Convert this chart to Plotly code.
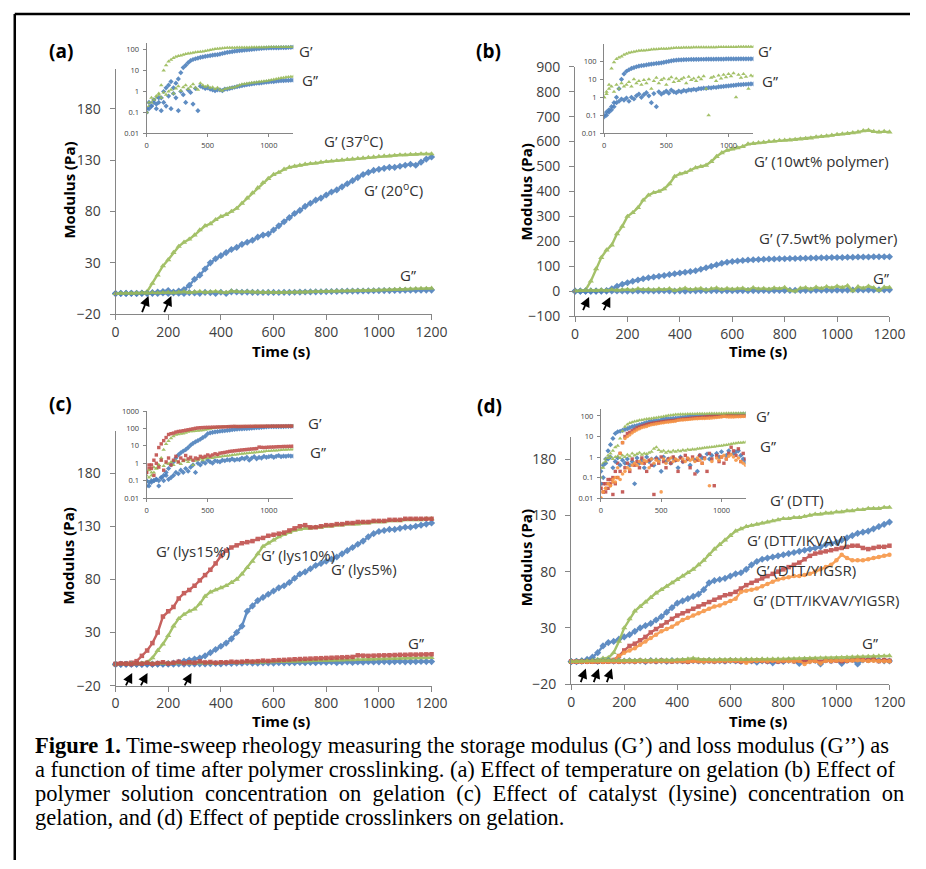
import plotly.graph_objects as go

W, H = 926, 869
TIME_STEP_S = 20  # values below are read every 20 s, from 0 to 1200 s

# ---------------- Panel (a): temperature ----------------
A_G37 = [0.1, 0.2, 0.3, 0.4, 0.5, 0.7, 2, 10, 18, 27,
         33, 40, 46, 50, 53, 57, 62, 66, 68, 72,
         75, 77, 80, 83, 88, 93, 98, 103, 108, 112,
         116, 118, 121, 123, 124, 125, 126, 126.5, 127, 128,
         128.5, 129, 129.5, 130, 130.5, 131, 131.5, 132, 132.5, 133,
         133.5, 134, 134, 134.5, 135, 135, 135.5, 135.5, 136, 136,
         136]
A_G20 = [0.1, 0.15, 0.2, 0.3, 0.25, 0.3, 0.5, 1, 1.5, 2,
         3, 1.5, 2.5, 4, 8, 14, 18, 24, 30, 34,
         37, 40, 43, 45, 48, 50, 52, 55, 57, 58,
         62, 66, 70, 74, 78, 81, 85, 88, 91, 93,
         96, 99, 101, 104, 107, 110, 113, 116, 118, 120,
         121, 122, 123, 123, 124, 125, 126, 125, 128, 131,
         133]
A_GG37 = [0.1, 0.3, 0.5, 0.4, 0.6, 0.8, 0.5, 0.9, 0.7, 1.0,
          1.2, 0.8, 1.4, 1.8, 1.1, 1.6, 2.0, 1.3, 1.7, 2.2,
          1.5, 1.2, 2.5, 2.0, 1.7, 1.9, 1.5, 1.6, 1.3, 1.5,
          1.2, 1.1, 1.3, 1.4, 1.5, 1.5, 1.6, 1.8, 2.0, 2.2,
          2.3, 2.4, 2.5, 2.6, 2.7, 2.8, 2.9, 3.0, 3.1, 3.2,
          3.4, 3.6, 3.8, 4.0, 4.2, 4.4, 4.6, 4.8, 5.0, 5.1,
          5.2]
A_GG20 = [0.15, 0.3, 0.2, 0.4, 0.15, 0.5, 0.12, 0.3, 0.2, 0.6,
          0.15, 0.8, 0.5, 0.12, 1.0, 0.7, 0.3, 1.2, 0.9, 0.25,
          1.4, 0.12, 1.8, 1.6, 1.4, 1.5, 1.3, 1.2, 1.1, 1.2,
          1.2, 1.1, 1.3, 1.3, 1.4, 1.5, 1.6, 1.7, 1.8, 1.9,
          2.0, 2.1, 2.2, 2.3, 2.4, 2.5, 2.5, 2.6, 2.7, 2.8,
          2.9, 3.0, 3.0, 3.1, 3.2, 3.3, 3.3, 3.4, 3.4, 3.5,
          3.5]

# ---------------- Panel (b): polymer concentration ----------------
B_G10 = [1.0, 1.5, 5, 40, 90, 135, 165, 185, 230, 260,
         300, 315, 335, 365, 385, 395, 400, 410, 430, 460,
         470, 475, 485, 495, 500, 505, 520, 540, 555, 565,
         570, 575, 580, 590, 592, 595, 597, 600, 602, 604,
         605, 606, 608, 610, 612, 614, 618, 620, 622, 625,
         628, 630, 632, 635, 638, 643, 645, 640, 638, 640,
         638]
B_G75 = [0.1, 0.15, 0.2, 0.3, 0.5, 1, 3, 10, 20, 28,
         34, 40, 45, 50, 54, 57, 60, 63, 67, 70,
         73, 76, 79, 82, 88, 94, 100, 106, 112, 116,
         119, 121, 123, 125, 126, 127, 128, 129, 129, 130,
         130, 131, 131, 132, 132, 133, 133, 134, 134, 135,
         135, 135, 136, 136, 137, 137, 137, 138, 138, 138,
         138]
B_GG10 = [1.0, 2, 3, 4, 2, 5, 3, 6, 4, 5,
          7, 4, 10, 6, 8, 5, 9, 6, 10, 3,
          8, 12, 6, 9, 11, 5, 10, 13, 7, 11,
          8, 10, 12, 6, 14, 9, 11, 8, 13, 10,
          15, 3, 0.1, 12, 14, 8, 16, 11, 18, 13,
          20, 15, 22, 1, 18, 12, 20, 14, 3, 16,
          15]
B_GG75 = [0.08, 0.1, 0.15, 0.2, 0.3, 0.5, 0.6, 0.8, 0.7, 0.9,
          0.6, 1.0, 0.8, 1.2, 1.5, 1.0, 1.4, 1.8, 1.2, 0.5,
          1.6, 0.3, 2.0, 1.5, 1.8, 2.2, 1.7, 2.5, 2.0, 1.8,
          2.2, 2.0, 2.4, 2.2, 2.6, 2.5, 2.8, 2.6, 3.0, 3.0,
          3.2, 3.1, 3.4, 3.3, 3.6, 3.5, 3.8, 3.9, 4.0, 4.2,
          4.3, 4.5, 4.6, 4.8, 5.0, 5.0, 5.2, 5.3, 5.4, 5.5,
          5.5]

# ---------------- Panel (c): lysine concentration ----------------
C_G15 = [0.3, 0.5, 0.8, 1.5, 3, 8, 13, 20, 30, 45,
         50, 54, 62, 67, 70, 74, 79, 84, 89, 95,
         102, 107, 110, 112, 114, 115, 116, 118, 119, 121,
         122, 123, 124, 126, 128, 130, 131, 129, 129, 130,
         131, 131, 132, 132, 133, 133, 134, 134, 134, 135,
         135, 135, 136, 136, 136, 137, 137, 137, 137, 137,
         137]
C_G10 = [0.1, 0.15, 0.2, 0.3, 0.5, 0.8, 2, 6, 13, 19,
         27, 36, 43, 47, 50, 52, 57, 64, 68, 70,
         72, 74, 77, 80, 85, 91, 97, 104, 111, 114,
         117, 120, 122, 124, 126, 127, 128, 128, 129, 129,
         130, 130, 131, 131, 132, 132, 132, 133, 133, 134,
         134, 134, 135, 135, 135, 136, 136, 136, 136, 137,
         137]
C_G5 = [0.05, 0.08, 0.1, 0.1, 0.12, 0.1, 0.15, 0.2, 0.3, 0.5,
        0.8, 1.2, 2, 3, 4, 5, 6, 8, 11, 14,
        17, 20, 24, 30, 36, 50, 55, 60, 63, 66,
        69, 72, 74, 77, 81, 85, 87, 90, 93, 95,
        97, 99, 101, 104, 107, 110, 113, 116, 120, 123,
        125, 126, 127, 127, 128, 129, 129, 130, 131, 132,
        133]
C_GG15 = [0.3, 0.8, 0.5, 0.2, 1.0, 0.6, 1.5, 0.4, 1.2, 2.0,
          0.8, 1.5, 2.5, 1.2, 2.0, 1.5, 2.8, 1.8, 2.2, 1.5,
          2.0, 1.8, 2.5, 2.2, 2.5, 3.0, 2.6, 3.0, 3.5, 3.2,
          3.8, 4.0, 4.2, 4.5, 4.8, 5.0, 5.2, 5.4, 5.6, 5.8,
          6.0, 6.2, 6.4, 6.6, 6.8, 7.0, 8.5, 8.2, 8.0, 8.2,
          8.4, 8.5, 8.6, 8.8, 9.0, 9.0, 9.2, 9.2, 9.3, 9.4,
          9.5]
C_GG10 = [0.2, 0.4, 0.3, 0.6, 0.5, 0.8, 1.5, 0.7, 1.0, 0.9,
          1.2, 0.8, 1.4, 1.1, 0.9, 1.3, 1.5, 1.2, 1.6, 0.8,
          1.4, 1.6, 1.8, 1.5, 1.9, 2.0, 2.1, 2.0, 2.2, 2.3,
          2.4, 2.5, 2.6, 2.7, 2.8, 3.0, 3.1, 3.2, 3.4, 3.5,
          3.6, 3.8, 3.9, 4.0, 4.2, 4.3, 4.5, 4.6, 4.8, 5.0,
          5.1, 5.2, 5.4, 5.5, 5.6, 5.8, 5.9, 6.0, 6.1, 6.2,
          6.3]
C_GG5 = [0.1, 0.05, 0.08, 0.1, 0.12, 0.05, 0.15, 0.1, 0.2, 0.12,
         0.15, 0.2, 0.3, 0.25, 0.4, 0.3, 0.5, 0.35, 0.6, 0.8,
         0.3, 1.0, 0.8, 1.2, 1.0, 1.5, 1.2, 1.0, 1.4, 1.3,
         1.2, 1.5, 1.4, 1.6, 1.5, 1.8, 1.5, 1.7, 1.6, 2.0,
         1.8, 2.2, 1.5, 2.0, 2.4, 1.8, 2.2, 2.0, 2.5, 2.2,
         2.4, 2.6, 2.2, 2.5, 2.8, 2.4, 2.6, 2.5, 2.7, 2.6,
         2.6]

# ---------------- Panel (d): peptide crosslinkers ----------------
D_DTT = [0.3, 0.5, 0.8, 1.2, 1.5, 2, 3, 3.5, 8, 18,
         30, 38, 45, 49, 53, 57, 61, 64, 67, 70,
         73, 76, 79, 82, 86, 90, 95, 100, 104, 108,
         112, 116, 118, 120, 121, 122, 123, 124, 125, 126,
         127, 127, 128, 128, 129, 130, 131, 131, 132, 132,
         133, 133, 134, 134, 135, 135, 136, 136, 136, 137,
         137]
D_IKVAV = [0.2, 0.4, 0.8, 2, 4, 8, 14, 17, 18, 20,
           22, 24, 27, 30, 32, 34, 37, 40, 44, 48,
           52, 54, 56, 58, 60, 64, 70, 72, 73, 74,
           76, 78, 79, 82, 86, 89, 91, 92, 93, 94,
           95, 96, 97, 98, 99, 100, 101, 102, 104, 105,
           106, 108, 110, 112, 114, 115, 116, 118, 120, 122,
           124]
D_YIGSR = [0.03, 0.05, 0.02, 0.08, 0.05, 0.1, 0.2, 0.5, 1.5, 5,
           10, 14, 16, 19, 22, 26, 29, 32, 35, 38,
           41, 43, 45, 47, 49, 51, 53, 55, 57, 59,
           60, 62, 65, 68, 70, 72, 74, 76, 78, 80,
           82, 84, 86, 88, 91, 94, 96, 97, 98, 99,
           100, 101, 102, 103, 103, 101, 100, 101, 102, 102,
           103]
D_IKYI = [0.01, 0.02, 0.03, 0.05, 0.04, 0.06, 0.1, 0.3, 1.5, 5,
          8, 10, 12, 15, 18, 21, 24, 27, 29, 31,
          34, 37, 39, 41, 43, 45, 47, 49, 50, 52,
          54, 56, 62, 63, 64, 65, 67, 69, 71, 73,
          74, 75, 76, 76, 77, 78, 80, 82, 84, 86,
          90, 95, 92, 90, 90, 90, 91, 92, 93, 94,
          95]
D_GG_DTT = [0.1, 0.3, 0.6, 0.9, 1.0, 0.8, 1.0, 1.1, 0.9, 1.2,
            1.0, 1.3, 1.1, 1.5, 1.2, 1.4, 1.6, 1.3, 1.5, 1.4,
            1.6, 1.8, 2.5, 3.0, 2.2, 1.8, 2.0, 1.6, 1.9, 1.7,
            2.0, 1.8, 2.1, 1.9, 2.2, 2.0, 2.3, 2.2, 2.4, 2.3,
            2.5, 2.6, 2.7, 2.8, 2.9, 3.0, 3.1, 3.2, 3.3, 3.4,
            3.5, 3.7, 3.9, 4.1, 4.3, 4.5, 4.7, 4.9, 5.0, 5.1,
            5.2]
D_GG_IKVAV = [0.05, 0.1, 0.5, 0.8, 1.0, 0.3, 0.6, 0.9, 0.4, 0.7,
              0.5, 0.8, 0.4, 0.6, 0.05, 0.9, 0.5, 0.7, 0.3, 1.0,
              0.6, 0.8, 0.4, 0.9, 0.7, 0.2, 1.0, 0.6, 0.8, 0.5,
              0.9, 0.7, 0.3, 1.0, 0.6, -0.5, 0.8, 0.4, -1.0, 0.7,
              0.2, 1.2, 0.9, -1.5, 1.4, 0.8, 1.2, -2.0, 1.5, 1.0,
              1.8, -1.5, 1.2, 2.0, -2.0, 1.5, 1.8, 2.0, 1.2, 0.8,
              0.6]
D_GG_YIGSR = [0.03, 0.02, 0.05, 0.03, 0.08, 0.015, 0.05, 0.1, 0.2, 0.02,
              0.3, 0.5, 0.2, 0.8, 0.4, 0.6, 0.3, 0.9, 0.5, 0.2,
              0.7, 0.4, 0.015, 0.8, 0.5, 1.0, 0.6, 0.3, 0.8, 0.5,
              1.0, 0.7, 0.2, 0.9, 0.6, 1.2, 0.8, 0.3, 1.0, 0.15,
              0.7, 1.2, 0.5, 0.9, 0.2, 1.5, 0.8, 0.04, 1.2, 0.6,
              1.0, 0.5, 0.8, 1.5, 3.0, 2.0, 1.2, 2.5, 0.6, 1.5,
              0.8]
D_GG_IKYI = [0.01, 0.02, 0.03, 0.05, 0.04, 0.08, 0.06, 0.1, 0.08, 0.15,
             0.2, 0.3, 0.25, 0.4, 0.5, 0.4, 0.6, 0.5, 0.7, 0.6,
             0.3, 0.8, 0.5, 0.7, 0.6, 0.02, 0.8, 0.5, 0.7, 0.9,
             0.6, 0.8, 0.7, -1.0, 0.8, 0.6, 0.9, 0.7, 0.8, 0.6,
             0.9, 0.7, 0.5, 0.8, -2.0, 0.04, 0.6, -1.5, 0.9, 0.7,
             1.0, 1.2, 0.8, 1.1, 1.3, 1.0, 0.7, 0.9, 0.6, 0.5,
             0.4]

X_TICKS = [0, 200, 400, 600, 800, 1000, 1200]
Y_TICKS_LOW = [-20, 30, 80, 130, 180]
Y_TICKS_B = [-100, 0, 100, 200, 300, 400, 500, 600, 700, 800, 900]
INSET_X_TICKS = [0, 500, 1000]
INSET_Y_TICKS = [0.01, 0.1, 1, 10, 100]
INSET_Y_TICKS_C = [0.01, 0.1, 1, 10, 100, 1000]

CAPTION_LINES = [
    "<b>Figure 1.</b> Time-sweep rheology measuring the storage modulus (G’) and loss modulus (G’’) as",
    "a function of time after polymer crosslinking. (a) Effect of temperature on gelation (b) Effect of",
    "polymer solution concentration on gelation (c) Effect of catalyst (lysine) concentration on",
    "gelation, and (d) Effect of peptide crosslinkers on gelation.",
]
# extra (non-breaking) spaces per word gap, mimicking the justified caption lines
CAPTION_EXTRA_SPACES = [0, 0, 1, 0]

BLUE, RED, GREEN, ORANGE = "#4F81BD", "#C0504D", "#9BBB59", "#F79646"
STYLE = {
    "blue": (BLUE, "diamond", 5.5, 4.0),
    "green": (GREEN, "triangle-up", 5.5, 4.0),
    "red": (RED, "square", 4.5, 3.4),
    "orange": (ORANGE, "circle", 4.5, 3.6),
}

def fx(px):
    return px / W

def fy(py):
    return 1 - py / H

panels = [
    dict(main_x=(114, 437), main_y=(60, 311), main_range=(-20, 219), yticks=Y_TICKS_LOW,
         in_x=(145.7, 295.7), in_y=(34, 126), in_range=(-2, 2.31), in_ticks=INSET_Y_TICKS,
         series=[("blue", A_G20), ("green", A_G37), ("blue", A_GG20), ("green", A_GG37)]),
    dict(main_x=(583.7, 905), main_y=(58, 313), main_range=(-100, 900), yticks=Y_TICKS_B,
         in_x=(613.3, 766), in_y=(35, 126), in_range=(-2, 2.95), in_ticks=INSET_Y_TICKS,
         series=[("blue", B_G75), ("green", B_G10), ("blue", B_GG75), ("green", B_GG10)]),
    dict(main_x=(114, 437), main_y=(430, 690.7), main_range=(-20, 220), yticks=Y_TICKS_LOW,
         in_x=(145.7, 295.7), in_y=(410, 499), in_range=(-2, 3), in_ticks=INSET_Y_TICKS_C,
         series=[("blue", C_G5), ("green", C_G10), ("red", C_G15),
                 ("blue", C_GG5), ("green", C_GG10), ("red", C_GG15)]),
    dict(main_x=(579.7, 905), main_y=(436.7, 689.3), main_range=(-20, 199.4), yticks=Y_TICKS_LOW,
         in_x=(610, 758), in_y=(408.3, 499), in_range=(-2, 2.32), in_ticks=INSET_Y_TICKS,
         series=[("blue", D_IKVAV), ("red", D_YIGSR), ("orange", D_IKYI), ("green", D_DTT),
                 ("blue", D_GG_IKVAV), ("red", D_GG_YIGSR), ("orange", D_GG_IKYI), ("green", D_GG_DTT)]),
]

for p in panels:
    for _, vals in p["series"]:
        if len(vals) != 61:
            raise ValueError("series length %d" % len(vals))

fig = go.Figure()
layout = dict(width=W, height=H, autosize=False, margin=dict(l=0, r=0, t=0, b=0, pad=0),
              paper_bgcolor="white", plot_bgcolor="rgba(0,0,0,0)", showlegend=False,
              font=dict(family="Open Sans", color="#333333"))

AX_COLOR = "#868686"
TICK_FONT = dict(family="Open Sans", size=14, color="#404040")
IN_FONT = dict(family="Open Sans", size=7.5, color="#404040")

axis_n = 0
for p in panels:
    axis_n += 1
    sx = "" if axis_n == 1 else str(axis_n)
    layout["xaxis" + sx] = dict(domain=[fx(p["main_x"][0]), fx(p["main_x"][1])], range=[0, 1200],
                                anchor="y" + sx, tickvals=X_TICKS, showline=True, linecolor=AX_COLOR,
                                linewidth=1, ticks="outside", ticklen=5, tickcolor=AX_COLOR,
                                showgrid=False, zeroline=False, tickfont=TICK_FONT, ticklabelstandoff=0)
    layout["yaxis" + sx] = dict(domain=[fy(p["main_y"][1]), fy(p["main_y"][0])], range=list(p["main_range"]),
                                anchor="x" + sx, tickvals=p["yticks"], showline=True, linecolor=AX_COLOR,
                                linewidth=1, ticks="outside", ticklen=5, tickcolor=AX_COLOR,
                                showgrid=False, zeroline=False, tickfont=TICK_FONT, ticklabelstandoff=6)
    for cname, vals in p["series"]:
        col, sym, msz, _ = STYLE[cname]
        fig.add_trace(go.Scatter(x=[TIME_STEP_S * i for i in range(len(vals))], y=vals, mode="lines+markers",
                                 xaxis="x" + sx, yaxis="y" + sx, cliponaxis=False,
                                 line=dict(color=col, width=2.4),
                                 marker=dict(color=col, symbol=sym, size=msz, line=dict(width=0)),
                                 opacity=0.9))
    axis_n += 1
    si = str(axis_n)
    layout["xaxis" + si] = dict(domain=[fx(p["in_x"][0]), fx(p["in_x"][1])], range=[0, 1200],
                                anchor="y" + si, tickvals=INSET_X_TICKS, showline=True, linecolor=AX_COLOR,
                                linewidth=1, ticks="outside", ticklen=3, tickcolor=AX_COLOR,
                                showgrid=False, zeroline=False, tickfont=IN_FONT, ticklabelstandoff=2)
    layout["yaxis" + si] = dict(domain=[fy(p["in_y"][1]), fy(p["in_y"][0])], type="log",
                                range=list(p["in_range"]), anchor="x" + si, tickvals=p["in_ticks"],
                                ticktext=[("%g" % v) for v in p["in_ticks"]], showline=True,
                                linecolor=AX_COLOR, linewidth=1, ticks="outside", ticklen=3,
                                tickcolor=AX_COLOR, showgrid=False, zeroline=False, tickfont=IN_FONT,
                                ticklabelstandoff=2)
    for cname, vals in p["series"]:
        col, sym, _, isz = STYLE[cname]
        fig.add_trace(go.Scatter(x=[TIME_STEP_S * i for i in range(len(vals))], y=vals, mode="markers",
                                 xaxis="x" + si, yaxis="y" + si, cliponaxis=True,
                                 marker=dict(color=col, symbol=sym, size=isz, line=dict(width=0)),
                                 opacity=0.9))

ann = []

def text(px, py, s, size=15, bold=False, xanchor="center", family="Open Sans", angle=0, color="#333333"):
    ann.append(dict(x=fx(px), y=fy(py), xref="paper", yref="paper", text=("<b>%s</b>" % s) if bold else s,
                    showarrow=False, xanchor=xanchor, yanchor="middle", textangle=angle, borderpad=0,
                    font=dict(family=family, size=size, color=color)))

def arrow(tip, tail):
    ann.append(dict(x=fx(tip[0]), y=fy(tip[1]), xref="paper", yref="paper", text="", showarrow=True,
                    ax=tail[0] - tip[0], ay=tail[1] - tip[1], arrowhead=2, arrowsize=1.1,
                    arrowwidth=1.8, arrowcolor="black"))

text(58, 42, "(a)", size=19, bold=True, color="black")
text(495, 42, "(b)", size=19, bold=True, color="black")
text(58, 403, "(c)", size=19, bold=True, color="black")
text(496, 405, "(d)", size=19, bold=True, color="black")

for (px, py) in [(66, 184), (533, 186), (65, 558), (533, 560)]:
    text(px, py, "Modulus (Pa)", size=15, bold=True, angle=-90, color="black")
for (px, py) in [(283, 349), (771, 349), (283, 727), (771, 727)]:
    text(px, py, "Time (s)", size=15, bold=True, color="black")

text(300, 42, "G’", xanchor="left")
text(304, 72, "G’’", xanchor="left")
text(357, 133, "G’ (37<sup>o</sup>C)")
text(398, 184, "G’ (20<sup>o</sup>C)")
text(413, 271, "G’’")

text(770, 42, "G’", xanchor="left")
text(774, 73, "G’’", xanchor="left")
text(836, 154, "G’ (10wt% polymer)")
text(843, 233, "G’ (7.5wt% polymer)")
text(896, 274, "G’’")

text(310, 422, "G’", xanchor="left")
text(312, 452, "G’’", xanchor="left")
text(193, 553, "G’ (lys15%)")
text(300, 557, "G’ (lys10%)")
text(368, 572, "G’ (lys5%)")
text(421, 647, "G’’")

text(768, 415, "G’", xanchor="left")
text(772, 446, "G’’", xanchor="left")
text(811, 501, "G’ (DTT)")
text(810, 542, "G’ (DTT/IKVAV)")
text(820, 573, "G’ (DTT/YIGSR)")
text(840, 603, "G’ (DTT/IKVAV/YIGSR)")
text(885, 647, "G’’")

arrow((147.7, 292.3), (140.7, 310))
arrow((171, 292.3), (163.3, 310))
arrow((598, 293.3), (591.3, 308))
arrow((619.7, 293.3), (612.3, 308))
arrow((131, 677.7), (124, 691.7))
arrow((146.7, 677.7), (139.3, 691.7))
arrow((191.7, 677.7), (184, 691.7))
arrow((594.7, 673.3), (589, 688.3))
arrow((608, 673.3), (602.3, 688.3))
arrow((621.3, 673.3), (615.7, 688.3))

for i, (line, extra) in enumerate(zip(CAPTION_LINES, CAPTION_EXTRA_SPACES)):
    shown = line.replace(" ", " " + "\u00a0" * extra) if extra else line
    ann.append(dict(x=fx(31), y=fy(752 + 24.5 * i), xref="paper", yref="paper", text=shown,
                    showarrow=False, xanchor="left", yanchor="middle", borderpad=0,
                    font=dict(family="Liberation Serif", size=22.5, color="black")))

layout["annotations"] = ann
layout["shapes"] = [
    dict(type="line", xref="paper", yref="paper", x0=fx(11), x1=1, y0=fy(4), y1=fy(4),
         line=dict(color="black", width=2.5)),
    dict(type="line", xref="paper", yref="paper", x0=fx(11), x1=fx(11), y0=fy(4), y1=0,
         line=dict(color="black", width=2.5)),
]
fig.update_layout(**layout)
fig.write_html("out.html", config={"displayModeBar": False},
               post_script="document.body.style.margin='0px';document.body.style.padding='0px';")
